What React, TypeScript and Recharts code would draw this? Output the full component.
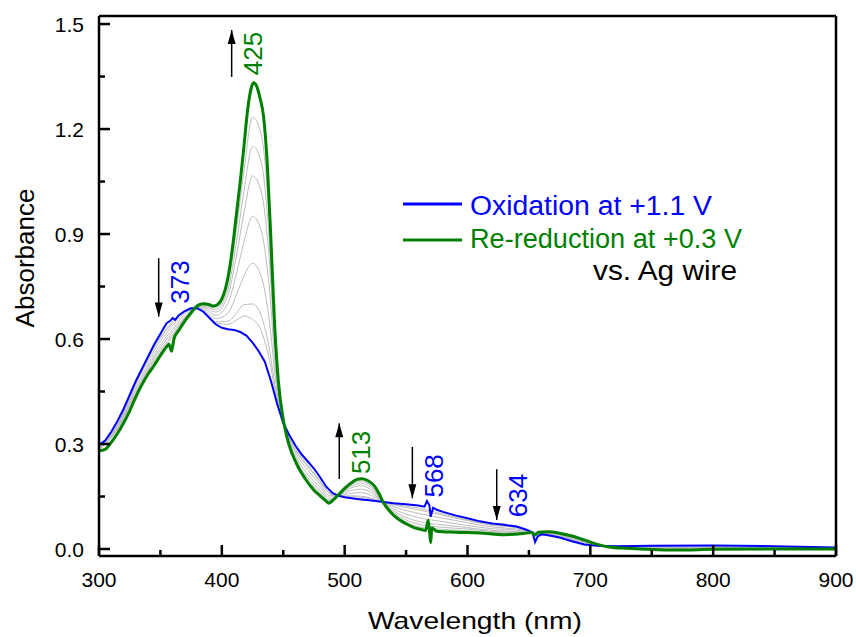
import React from "react";
import {
  LineChart,
  Line,
  XAxis,
  YAxis,
  ReferenceDot,
  ReferenceLine,
} from "recharts";

// oxidation at +1.1 V (blue)
const oxWl = [300, 305, 310, 315, 320, 325, 330, 335, 340, 345, 350, 355, 358, 360, 362, 365, 370, 375, 380, 385, 390, 395, 400, 405, 410, 415, 420, 425, 430, 435, 440, 445, 450, 455, 460, 465, 470, 475, 480, 485, 490, 495, 500, 510, 520, 530, 540, 550, 560, 565, 567, 569, 570, 572, 575, 580, 590, 600, 610, 620, 630, 640, 648, 653, 655, 657, 660, 665, 675, 685, 695, 705, 720, 750, 800, 850, 900];
const oxAbs = [0.297, 0.31, 0.335, 0.365, 0.4, 0.44, 0.48, 0.515, 0.55, 0.585, 0.615, 0.645, 0.652, 0.66, 0.655, 0.668, 0.68, 0.688, 0.688, 0.678, 0.66, 0.642, 0.632, 0.628, 0.626, 0.62, 0.61, 0.59, 0.565, 0.535, 0.48, 0.415, 0.36, 0.325, 0.295, 0.27, 0.25, 0.23, 0.205, 0.178, 0.16, 0.152, 0.148, 0.143, 0.139, 0.135, 0.131, 0.128, 0.124, 0.121, 0.137, 0.125, 0.092, 0.118, 0.112, 0.106, 0.096, 0.088, 0.079, 0.073, 0.069, 0.064, 0.055, 0.047, 0.02, 0.035, 0.042, 0.04, 0.033, 0.022, 0.013, 0.009, 0.008, 0.009, 0.01, 0.008, 0.004];

// re-reduction at +0.3 V (green)
const rrWl = [300, 305, 310, 315, 320, 325, 330, 335, 340, 345, 350, 355, 357, 359, 361, 365, 370, 375, 380, 385, 390, 393, 397, 400, 403, 406, 409, 412, 415, 418, 421, 424, 426, 428, 431, 434, 437, 440, 443, 446, 450, 453, 457, 462, 468, 475, 480, 485, 487, 490, 495, 500, 505, 510, 514, 518, 524, 528, 532, 538, 543, 550, 556, 562, 566, 568, 569, 570, 571, 575, 590, 610, 630, 645, 652, 655, 658, 665, 675, 685, 695, 705, 715, 730, 770, 800, 850, 900];
const rrAbs = [0.281, 0.285, 0.305, 0.33, 0.36, 0.395, 0.435, 0.47, 0.5, 0.525, 0.553, 0.578, 0.585, 0.565, 0.6, 0.625, 0.652, 0.675, 0.695, 0.701, 0.698, 0.694, 0.7, 0.715, 0.745, 0.795, 0.87, 0.96, 1.05, 1.15, 1.255, 1.318, 1.332, 1.325, 1.29, 1.235, 1.1, 0.88, 0.64, 0.48, 0.37, 0.32, 0.275, 0.235, 0.2, 0.168, 0.152, 0.137, 0.131, 0.138, 0.155, 0.173, 0.188, 0.199, 0.201, 0.197, 0.181, 0.158, 0.13, 0.103, 0.087, 0.072, 0.062, 0.056, 0.053, 0.082, 0.055, 0.018, 0.06, 0.051, 0.048, 0.046, 0.041, 0.044, 0.047, 0.04, 0.048, 0.049, 0.045, 0.037, 0.026, 0.014, 0.006, 0.002, -0.003, -0.001, 0, 0];

// intermediate spectra (grey)
const grayWl = [300, 315, 330, 345, 360, 375, 385, 395, 405, 412, 418, 425, 432, 438, 445, 452, 460, 470, 480, 487, 495, 505, 513, 522, 532, 545, 560, 580, 600, 620, 640, 660, 680, 700, 720, 760, 900];
const gray1 = [0.282, 0.342, 0.442, 0.537, 0.607, 0.677, 0.697, 0.69, 0.76, 0.916, 1.08, 1.233, 1.186, 0.979, 0.506, 0.323, 0.247, 0.188, 0.157, 0.135, 0.154, 0.184, 0.194, 0.179, 0.129, 0.087, 0.064, 0.056, 0.052, 0.047, 0.046, 0.048, 0.038, 0.019, 0.005, -0.001, 0.001];
const gray2 = [0.284, 0.344, 0.447, 0.543, 0.613, 0.679, 0.694, 0.684, 0.743, 0.879, 1.022, 1.151, 1.106, 0.918, 0.495, 0.326, 0.252, 0.196, 0.162, 0.138, 0.154, 0.179, 0.188, 0.174, 0.129, 0.092, 0.071, 0.062, 0.057, 0.05, 0.048, 0.047, 0.037, 0.018, 0.005, 0.001, 0.001];
const gray3 = [0.286, 0.345, 0.453, 0.55, 0.62, 0.68, 0.691, 0.677, 0.726, 0.84, 0.96, 1.066, 1.023, 0.855, 0.483, 0.329, 0.258, 0.203, 0.168, 0.142, 0.153, 0.174, 0.181, 0.168, 0.13, 0.098, 0.079, 0.069, 0.061, 0.053, 0.05, 0.046, 0.036, 0.016, 0.006, 0.002, 0.001];
const gray4 = [0.289, 0.348, 0.461, 0.558, 0.628, 0.683, 0.687, 0.668, 0.702, 0.788, 0.877, 0.95, 0.91, 0.77, 0.466, 0.333, 0.266, 0.213, 0.176, 0.148, 0.152, 0.167, 0.171, 0.161, 0.131, 0.106, 0.09, 0.078, 0.067, 0.058, 0.054, 0.044, 0.034, 0.015, 0.007, 0.004, 0.002];
const gray5 = [0.292, 0.35, 0.47, 0.568, 0.638, 0.685, 0.683, 0.658, 0.674, 0.727, 0.781, 0.816, 0.78, 0.671, 0.448, 0.337, 0.275, 0.225, 0.185, 0.154, 0.152, 0.159, 0.161, 0.153, 0.132, 0.115, 0.102, 0.088, 0.075, 0.063, 0.057, 0.043, 0.032, 0.013, 0.007, 0.006, 0.003];
const gray6 = [0.294, 0.353, 0.477, 0.576, 0.646, 0.688, 0.679, 0.649, 0.651, 0.674, 0.698, 0.7, 0.667, 0.585, 0.431, 0.341, 0.282, 0.235, 0.192, 0.16, 0.151, 0.152, 0.151, 0.145, 0.133, 0.122, 0.112, 0.096, 0.081, 0.068, 0.061, 0.041, 0.03, 0.012, 0.008, 0.007, 0.003];
const gray7 = [0.295, 0.354, 0.48, 0.58, 0.65, 0.689, 0.677, 0.646, 0.642, 0.654, 0.666, 0.656, 0.624, 0.552, 0.425, 0.343, 0.285, 0.239, 0.195, 0.162, 0.15, 0.149, 0.148, 0.142, 0.133, 0.125, 0.117, 0.1, 0.083, 0.069, 0.062, 0.041, 0.029, 0.011, 0.009, 0.008, 0.004];
const grays = [gray1, gray2, gray3, gray4, gray5, gray6, gray7];

// axes
const xDomain = [300, 900];
const yDomain = [-0.02, 1.523];
const xTicks = [300, 350, 400, 450, 500, 550, 600, 650, 700, 750, 800, 850, 900];
const xMajor = [300, 400, 500, 600, 700, 800, 900];
const yTicks = [0, 0.15, 0.3, 0.45, 0.6, 0.75, 0.9, 1.05, 1.2, 1.35, 1.5];
const yMajor = [0, 0.3, 0.6, 0.9, 1.2, 1.5];
const yMajorLabels = ["0.0", "0.3", "0.6", "0.9", "1.2", "1.5"];

// peak annotations
const peakText = ["373", "425", "513", "568", "634"];
const peakColor = ["#0000ff", "#008000", "#008000", "#0000ff", "#0000ff"];
const peakX = [366, 425.6, 513.5, 572.5, 641.4];
const peakY = [0.763, 1.416, 0.276, 0.209, 0.153];
const arrowX = [348.6, 408, 495.6, 555.1, 623.8];
const arrowFrom = [0.831, 1.349, 0.2, 0.292, 0.228];
const arrowTo = [0.664, 1.483, 0.359, 0.145, 0.083];

const BLUE = "#0000ff";
const GREEN = "#008000";
const FONT = "'Liberation Sans', Arial, sans-serif";
const AXIS_W = 2.5;

const rows = (wl: number[], a: number[]) => wl.map((w, i) => ({ wl: w, a: a[i] }));
const oxData = rows(oxWl, oxAbs);
const rrData = rows(rrWl, rrAbs);
const grayData = grays.map((g) => rows(grayWl, g));

const YTick = (props: any) => {
  const { x, y, payload } = props;
  const idx = yMajor.findIndex((v) => Math.abs(v - payload.value) < 1e-6);
  const major = idx >= 0;
  return (
    <g>
      <line x1={x} x2={x + (major ? 11 : 6)} y1={y} y2={y} stroke="#000" strokeWidth={AXIS_W} />
      {major && (
        <text x={x - 15} y={y} textAnchor="end" dominantBaseline="central" fontSize={21} fontFamily={FONT} fill="#000">
          {yMajorLabels[idx]}
        </text>
      )}
    </g>
  );
};

const XTick = (props: any) => {
  const { x, y, payload } = props;
  const major = xMajor.includes(payload.value);
  return (
    <g>
      <line x1={x} x2={x} y1={y} y2={y - (major ? 11 : 6)} stroke="#000" strokeWidth={AXIS_W} />
      {major && (
        <text x={x} y={y + 31} textAnchor="middle" fontSize={21} fontFamily={FONT} fill="#000">
          {payload.value}
        </text>
      )}
    </g>
  );
};

export default function App() {
  const width = 856;
  const height = 637;
  return (
    <div style={{ position: "absolute", left: 0, top: 0, width, height, background: "#fff", fontFamily: FONT }}>
      <LineChart width={width} height={height} margin={{ top: 16, right: 20, left: 39, bottom: 41 }}>
        <XAxis
          dataKey="wl"
          type="number"
          domain={xDomain}
          allowDataOverflow
          ticks={xTicks}
          interval={0}
          tickSize={0}
          tickMargin={0}
          height={40}
          axisLine={false}
          tickLine={false}
          tick={<XTick />}
        />
        <YAxis
          type="number"
          domain={yDomain}
          allowDataOverflow
          ticks={yTicks}
          interval={0}
          tickSize={0}
          tickMargin={0}
          width={60}
          axisLine={false}
          tickLine={false}
          tick={<YTick />}
        />
        {grayData.map((d, i) => (
          <Line
            key={"g" + i}
            data={d}
            dataKey="a"
            type="monotone"
            stroke="#bcbcbc"
            strokeWidth={1}
            dot={false}
            legendType="none"
            isAnimationActive={false}
          />
        ))}
        <Line data={oxData} dataKey="a" name="Oxidation at +1.1 V" type="linear" stroke={BLUE} strokeWidth={2} dot={false} isAnimationActive={false} />
        <Line data={rrData} dataKey="a" name="Re-reduction at +0.3 V" type="monotone" stroke={GREEN} strokeWidth={3} dot={false} isAnimationActive={false} />
        {/* plot frame */}
        <ReferenceLine x={xDomain[0]} stroke="#000" strokeWidth={AXIS_W} ifOverflow="visible" />
        <ReferenceLine x={xDomain[1]} stroke="#000" strokeWidth={AXIS_W} ifOverflow="visible" />
        <ReferenceLine y={yDomain[0]} stroke="#000" strokeWidth={AXIS_W} ifOverflow="visible" />
        <ReferenceLine y={yDomain[1]} stroke="#000" strokeWidth={AXIS_W} ifOverflow="visible" />
        {arrowX.map((ax, i) => (
          <ReferenceLine
            key={"al" + i}
            segment={[
              { x: ax, y: arrowFrom[i] },
              { x: ax, y: arrowTo[i] },
            ]}
            stroke="#000"
            strokeWidth={1.5}
          />
        ))}
        {arrowX.map((ax, i) => (
          <ReferenceDot
            key={"ah" + i}
            x={ax}
            y={arrowTo[i]}
            r={1}
            shape={(p: any) => {
              const dir = arrowTo[i] > arrowFrom[i] ? 1 : -1;
              const { cx, cy } = p;
              return <path d={`M${cx},${cy} L${cx - 4},${cy + dir * 14} L${cx + 4},${cy + dir * 14} Z`} fill="#000" />;
            }}
          />
        ))}
        {peakText.map((t, i) => (
          <ReferenceDot
            key={"pt" + i}
            x={peakX[i]}
            y={peakY[i]}
            r={1}
            shape={(p: any) => (
              <text
                x={p.cx}
                y={p.cy}
                transform={`rotate(-90 ${p.cx} ${p.cy})`}
                textAnchor="middle"
                dominantBaseline="central"
                fontSize={26}
                fontFamily={FONT}
                fill={peakColor[i]}
              >
                {t}
              </text>
            )}
          />
        ))}
      </LineChart>
      <svg width={width} height={height} style={{ position: "absolute", left: 0, top: 0, pointerEvents: "none" }}>
        <text x={34} y={258} transform="rotate(-90 34 258)" textAnchor="middle" fontSize={26} fontFamily={FONT} fill="#000">
          Absorbance
        </text>
        <text x={368} y={629} fontSize={24} textLength={214} lengthAdjust="spacingAndGlyphs" fontFamily={FONT} fill="#000">
          Wavelength (nm)
        </text>
        <line x1={403} x2={462} y1={204} y2={204} stroke={BLUE} strokeWidth={3} />
        <text x={470} y={215} fontSize={27} textLength={242} lengthAdjust="spacingAndGlyphs" fontFamily={FONT} fill={BLUE}>
          Oxidation at +1.1 V
        </text>
        <line x1={403} x2={462} y1={240} y2={240} stroke={GREEN} strokeWidth={3} />
        <text x={470} y={248} fontSize={27} textLength={272} lengthAdjust="spacingAndGlyphs" fontFamily={FONT} fill={GREEN}>
          Re-reduction at +0.3 V
        </text>
        <text x={593} y={280} fontSize={27} textLength={144} lengthAdjust="spacingAndGlyphs" fontFamily={FONT} fill="#000">
          vs. Ag wire
        </text>
      </svg>
    </div>
  );
}
